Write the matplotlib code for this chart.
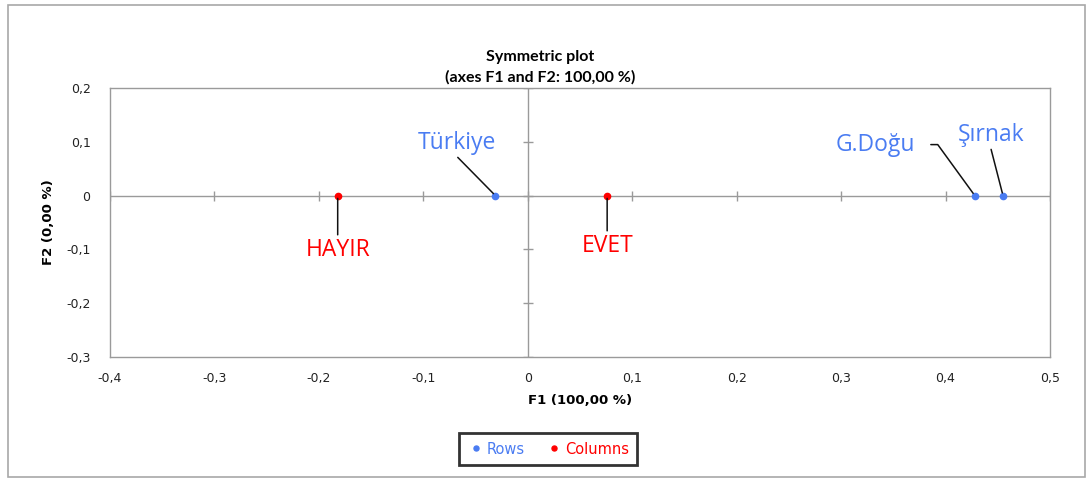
import matplotlib
matplotlib.use("Agg")
import matplotlib.pyplot as plt
from matplotlib.ticker import FuncFormatter
from matplotlib.patches import Rectangle

# Data
row_labels = ["Türkiye", "G.Doğu", "Şırnak"]
row_f1 = [-0.031, 0.428, 0.455]
row_f2 = [0.0, 0.0, 0.0]
col_labels = ["HAYIR", "EVET"]
col_f1 = [-0.182, 0.076]
col_f2 = [0.0, 0.0]
xticks = [-0.4, -0.3, -0.2, -0.1, 0, 0.1, 0.2, 0.3, 0.4, 0.5]
yticks = [-0.3, -0.2, -0.1, 0, 0.1, 0.2]

BLUE = "#4A7CF2"
RED = "#FF0000"
GRAY = "#9A9A9A"

W, H = 1088, 480
fig = plt.figure(figsize=(W / 100, H / 100), dpi=100)
fig.patches.append(Rectangle((8 / W, 3 / H), 1077 / W, 472 / H, transform=fig.transFigure,
                             fill=False, edgecolor="#A8A8A8", lw=1.2))
ax = fig.add_axes([110 / W, 1 - 357 / H, 940 / W, 269 / H])
ax.set_xlim(-0.4, 0.5)
ax.set_ylim(-0.3, 0.2)
for s in ax.spines.values():
    s.set_color(GRAY)
    s.set_linewidth(1.0)

fmt = FuncFormatter(lambda v, p: ("%g" % round(v, 2)).replace(".", ","))
ax.set_xticks(xticks)
ax.set_yticks(yticks)
ax.xaxis.set_major_formatter(fmt)
ax.yaxis.set_major_formatter(fmt)
ax.tick_params(length=0, labelsize=9, colors="#222222", pad=11)
ax.tick_params(axis="y", pad=14)
for lab in ax.get_xticklabels() + ax.get_yticklabels():
    lab.set_fontfamily("DejaVu Sans")

ax.axhline(0, color=GRAY, lw=1.0, zorder=1)
ax.axvline(0, color=GRAY, lw=1.0, zorder=1)
ax.plot(xticks, [0] * len(xticks), linestyle="none", marker="|", markersize=7,
        color=GRAY, markeredgewidth=1.0, zorder=1)
ax.plot([0] * len(yticks), yticks, linestyle="none", marker="_", markersize=7,
        color=GRAY, markeredgewidth=1.0, zorder=1)

ax.plot(row_f1, row_f2, linestyle="none", marker="o", markersize=4.5, color=BLUE,
        label="Rows", zorder=3)
ax.plot(col_f1, col_f2, linestyle="none", marker="o", markersize=4.5, color=RED,
        label="Columns", zorder=3)

lab_font = dict(fontfamily="Open Sans", fontsize=16.5)
ap = dict(arrowstyle="-", color="#111111", lw=1.1, shrinkA=0, shrinkB=2)

ax.annotate(row_labels[0], (row_f1[0], row_f2[0]), xytext=(-38, 53), textcoords="offset pixels",
            ha="center", va="center", color=BLUE,
            arrowprops=dict(ap, relpos=(0.5, -0.1)), **lab_font)
ax.annotate(row_labels[1], (row_f1[1], row_f2[1]), xytext=(-99, 51), textcoords="offset pixels",
            ha="center", va="center", color=BLUE,
            arrowprops=dict(ap, relpos=(1.0, 0.5), shrinkA=9,
                            connectionstyle="angle,angleA=0,angleB=126,rad=0"), **lab_font)
ax.annotate(row_labels[2], (row_f1[2], row_f2[2]), xytext=(-12, 61), textcoords="offset pixels",
            ha="center", va="center", color=BLUE,
            arrowprops=dict(ap, relpos=(0.5, -0.1)), **lab_font)
ax.annotate(col_labels[0], (col_f1[0], col_f2[0]), xytext=(0, -54), textcoords="offset pixels",
            ha="center", va="center", color=RED,
            arrowprops=dict(ap, relpos=(0.5, 1.1)), **lab_font)
ax.annotate(col_labels[1], (col_f1[1], col_f2[1]), xytext=(0, -50), textcoords="offset pixels",
            ha="center", va="center", color=RED,
            arrowprops=dict(ap, relpos=(0.5, 1.1)), **lab_font)

fig.text(540 / W, 1 - 57 / H, "Symmetric plot", ha="center", va="center",
         fontsize=11.5, fontweight="bold", fontfamily="Lato")
fig.text(540 / W, 1 - 77 / H, "(axes F1 and F2: 100,00 %)", ha="center", va="center",
         fontsize=11.5, fontweight="bold", fontfamily="Lato")
fig.text(580 / W, 1 - 400 / H, "F1 (100,00 %)", ha="center", va="center",
         fontsize=9.5, fontweight="bold", fontfamily="DejaVu Sans")
fig.text(48 / W, 1 - 222 / H, "F2 (0,00 %)", ha="center", va="center", rotation=90,
         fontsize=9.5, fontweight="bold", fontfamily="DejaVu Sans")

leg = fig.legend(loc="center", bbox_to_anchor=(548 / W, 1 - 449 / H), ncol=2,
                 frameon=True, fancybox=False, handletextpad=0.15, columnspacing=1.4,
                 handlelength=1.2, markerscale=0.8, borderpad=0.55,
                 prop=dict(family="DejaVu Sans", size=10.5))
leg.get_frame().set_edgecolor("black")
leg.get_frame().set_linewidth(2)
for t, c in zip(leg.get_texts(), [BLUE, RED]):
    t.set_color(c)

fig.savefig("out.png", dpi=100)
